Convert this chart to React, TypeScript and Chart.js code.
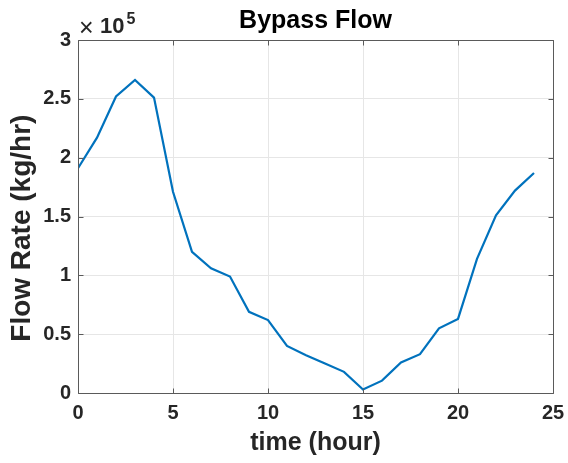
import React, { useEffect, useRef } from 'react';
import { Chart, registerables } from 'chart.js';

Chart.register(...registerables);

// ---- data ----
const hours = [0, 1, 2, 3, 4, 5, 6, 7, 8, 9, 10, 11, 12, 13, 14, 15, 16, 17, 18, 19, 20, 21, 22, 23, 24];
const flowRate = [
  191000, 217000, 252000, 266000, 251000, 171000, 120000, 106000, 99000, 69000,
  62000, 40000, 32000, 25000, 18000, 3000, 10500, 26000, 33000, 55000,
  63000, 114000, 151000, 172000, 187000,
];
const xTickValues = [0, 5, 10, 15, 20, 25];
const yTickValues = [0, 50000, 100000, 150000, 200000, 250000, 300000];
const yScaleFactor = 100000;
const exponentTimes = '\u00d7';
const exponentBase = '10';
const exponentPower = '5';
const titleText = 'Bypass Flow';
const xLabel = 'time (hour)';
const yLabel = 'Flow Rate (kg/hr)   ';

const FONT = "'Liberation Sans', Arial, Helvetica, sans-serif";
const TEXT = '#262626';

const matlabAxes = {
  id: 'matlabAxes',
  afterDatasetsDraw(chart: any) {
    const { ctx, chartArea, scales } = chart;
    const { left, right, top, bottom } = chartArea;
    const xs = scales.x;
    const ys = scales.y;
    ctx.save();
    ctx.strokeStyle = '#5a5a5a';
    ctx.lineWidth = 1;
    const L = Math.round(left) + 0.5;
    const R = Math.round(right) + 0.5;
    const T = Math.round(top) + 0.5;
    const B = Math.round(bottom) + 0.5;
    ctx.beginPath();
    ctx.rect(L, T, R - L, B - T);
    const tl = 5;
    xTickValues.forEach((v) => {
      const p = Math.round(xs.getPixelForValue(v)) + 0.5;
      ctx.moveTo(p, B);
      ctx.lineTo(p, B - tl);
      ctx.moveTo(p, T);
      ctx.lineTo(p, T + tl);
    });
    yTickValues.forEach((v) => {
      const p = Math.round(ys.getPixelForValue(v)) + 0.5;
      ctx.moveTo(L, p);
      ctx.lineTo(L + tl, p);
      ctx.moveTo(R, p);
      ctx.lineTo(R - tl, p);
    });
    ctx.stroke();
    ctx.restore();
  },
  afterDraw(chart: any) {
    const { ctx, chartArea } = chart;
    const { left, right } = chartArea;
    ctx.save();
    ctx.fillStyle = '#000';
    ctx.textAlign = 'center';
    ctx.textBaseline = 'alphabetic';
    ctx.font = `bold 25px ${FONT}`;
    ctx.fillText(titleText, (left + right) / 2, 28);
    // exponent label
    ctx.fillStyle = TEXT;
    ctx.textAlign = 'left';
    ctx.font = `25px ${FONT}`;
    ctx.fillText(exponentTimes, 79, 36);
    ctx.font = `bold 22px ${FONT}`;
    ctx.fillText(exponentBase, 100, 33);
    const w10 = ctx.measureText(exponentBase).width;
    ctx.font = `bold 16px ${FONT}`;
    ctx.fillText(exponentPower, 100 + w10 + 2, 24);
    ctx.restore();
  },
};

export default function App() {
  const ref = useRef<HTMLCanvasElement | null>(null);
  useEffect(() => {
    if (!ref.current) return;
    const chart = new Chart(ref.current, {
      type: 'line',
      data: {
        datasets: [
          {
            data: hours.map((h, i) => ({ x: h, y: flowRate[i] })),
            borderColor: '#0072BD',
            borderWidth: 2.2,
            pointRadius: 0,
            tension: 0,
            fill: false,
          },
        ],
      },
      options: {
        responsive: false,
        animation: false,
        devicePixelRatio: 1,
        layout: { padding: { left: 0, right: 15, top: 40, bottom: 0 } },
        plugins: { legend: { display: false }, tooltip: { enabled: false }, title: { display: false } },
        scales: {
          x: {
            type: 'linear',
            min: 0,
            max: 25,
            afterFit: (s: any) => {
              s.height = 70;
              s.paddingLeft = 0;
              s.paddingRight = 0;
            },
            afterBuildTicks: (s: any) => {
              s.ticks = xTickValues.map((v) => ({ value: v }));
            },
            ticks: {
              color: TEXT,
              font: { family: FONT, size: 20, weight: 'bold' },
              padding: 8,
              maxRotation: 0,
              autoSkip: false,
            },
            grid: { color: '#e6e6e6', drawTicks: false, tickLength: 0 },
            border: { display: false },
            title: {
              display: true,
              text: xLabel,
              color: TEXT,
              font: { family: FONT, size: 25, weight: 'bold' },
              padding: { top: 0, bottom: 5 },
            },
          },
          y: {
            type: 'linear',
            min: 0,
            max: 300000,
            afterFit: (s: any) => {
              s.width = 78;
              s.paddingTop = 0;
              s.paddingBottom = 0;
            },
            afterBuildTicks: (s: any) => {
              s.ticks = yTickValues.map((v) => ({ value: v }));
            },
            ticks: {
              color: TEXT,
              font: { family: FONT, size: 20, weight: 'bold' },
              padding: 7,
              callback: (v: any) => String(Number(v) / yScaleFactor),
            },
            grid: { color: '#e6e6e6', drawTicks: false, tickLength: 0 },
            border: { display: false },
            title: {
              display: true,
              text: yLabel,
              color: TEXT,
              font: { family: FONT, size: 28, weight: 'bold' },
              padding: { top: 5, bottom: 0 },
            },
          },
        },
      },
      plugins: [matlabAxes],
    } as any);
    return () => chart.destroy();
  }, []);
  return (
    <div style={{ position: 'fixed', left: 0, top: 0, width: 568, height: 463, background: '#fff' }}>
      <canvas ref={ref} width={568} height={463} style={{ width: 568, height: 463, display: 'block' }} />
    </div>
  );
}
